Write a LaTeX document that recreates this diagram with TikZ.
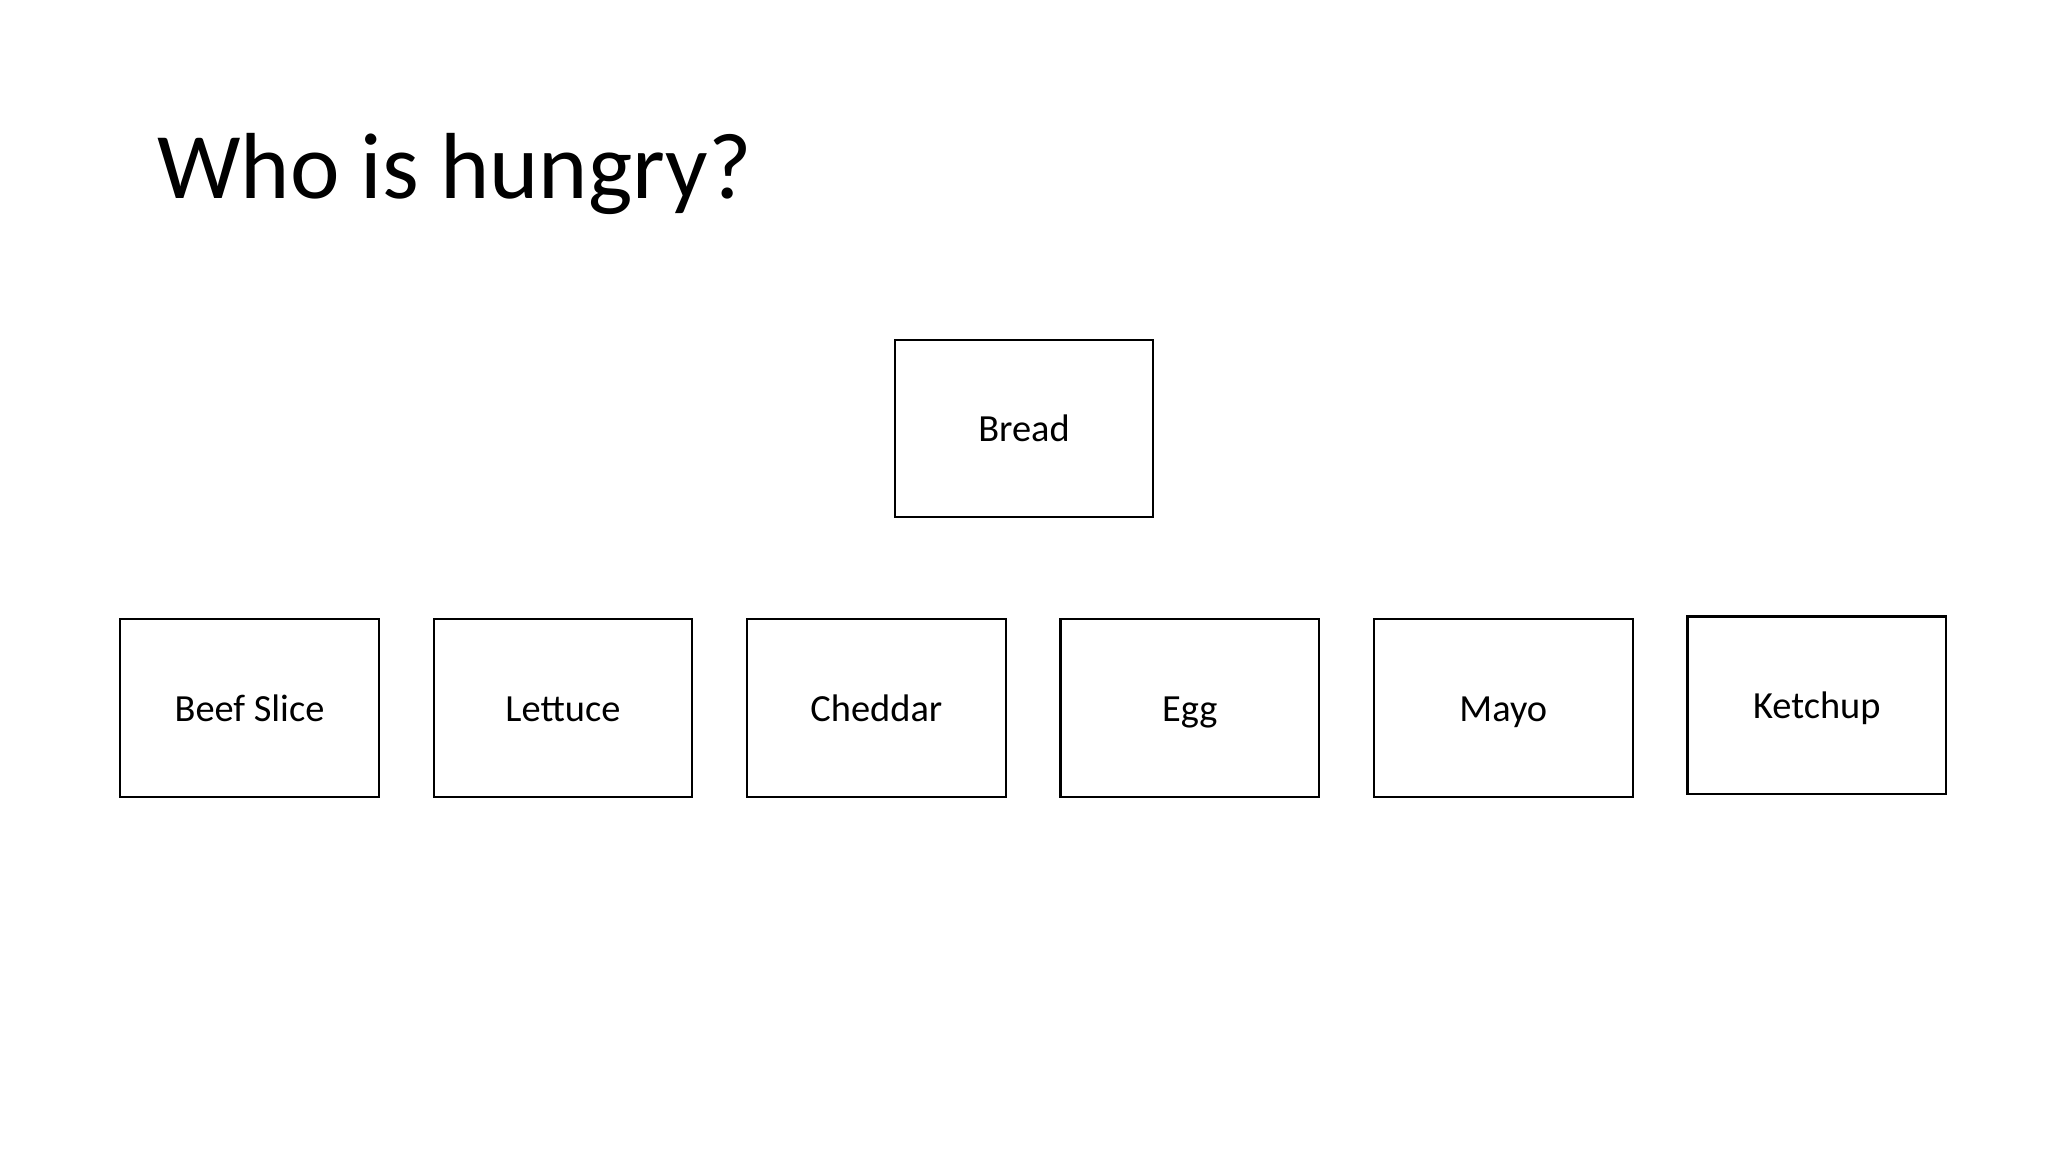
\documentclass[tikz,border=0pt]{standalone}
\usepackage{fontspec}
\setmainfont{Carlito}
\begin{document}
\begin{tikzpicture}[x=0.46875pt,y=-0.46875pt,
  item/.style={draw=black,line width=1pt,fill=white,minimum width=121.2pt,minimum height=83.25pt,inner sep=0pt,text height=12.6pt,text depth=0pt,font=\fontsize{18}{22}\selectfont},
  titletext/.style={anchor=base west,inner sep=0pt,font=\fontsize{44}{52}\selectfont}]
\useasboundingbox[fill=white] (0,0) rectangle (2048,1152);
\node[titletext] (title) at (157,199) {Who is hungry?};
\node[item] (bread) at (1024,428.4) {Bread};
\node[item] (beef) at (249.5,707.9) {Beef Slice};
\node[item] (lettuce) at (562.9,707.9) {Lettuce};
\node[item] (cheddar) at (876.4,707.9) {Cheddar};
\node[item] (egg) at (1189.8,707.9) {Egg};
\node[item] (mayo) at (1503.3,707.9) {Mayo};
\node[item] (ketchup) at (1816.8,705.3) {Ketchup};
\end{tikzpicture}
\end{document}
